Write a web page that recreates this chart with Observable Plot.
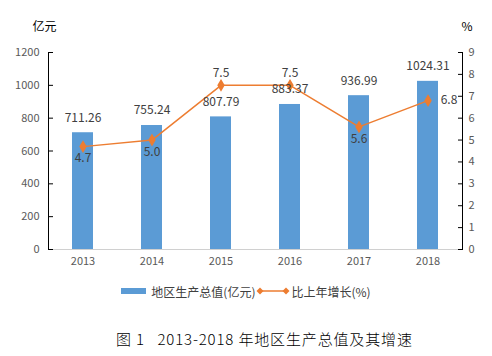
<!DOCTYPE html>
<html><head><meta charset="utf-8">
<script src="https://cdn.jsdelivr.net/npm/d3@7"></script>
<script src="https://cdn.jsdelivr.net/npm/@observablehq/plot@0.6"></script>
<style>
body{margin:0;background:#fff;font-family:"Noto Sans CJK SC",sans-serif;}
#wrap{position:relative;width:492px;height:356px;}
#legend{position:absolute;top:282px;left:0;width:492px;display:flex;justify-content:center;align-items:center;font-size:12px;color:#404040;height:18px;}
#caption{position:absolute;top:328px;left:116px;font-size:15px;font-weight:300;color:#000;white-space:pre;letter-spacing:0.85px;}
</style></head>
<body><div id="wrap"><div id="chart"></div>
<div id="legend"></div>
<div id="caption">图 1   2013-2018 年地区生产总值及其增速</div></div>
<script>
const years = ["2013","2014","2015","2016","2017","2018"];
const gdp = [711.26, 755.24, 807.79, 883.37, 936.99, 1024.31];
const growth = [4.7, 5.0, 7.5, 7.5, 5.6, 6.8];
const leftTicks = [0,200,400,600,800,1000,1200];
const rightTicks = [0,1,2,3,4,5,6,7,8,9];
const seriesNames = ["地区生产总值(亿元)","比上年增长(%)"];
const leftUnit = "亿元", rightUnit = "%";

const barColor = "#5b9bd5", lineColor = "#ed7d31";
const yMax = 1200, gMax = 9, k = yMax / gMax;
const data = years.map((y,i)=>({year:y, gdp:gdp[i], growth:growth[i]}));
const below = new Set(["2013","2014","2017"]), above = new Set(["2015","2016"]), right = new Set(["2018"]);

const W = 492, mL = 48, mR = 30, plotW = W - mL - mR;

const plot = Plot.plot({
  width: W, height: 275,
  marginTop: 52, marginBottom: 26, marginLeft: mL, marginRight: mR,
  style: {fontFamily: '"Noto Sans CJK SC", sans-serif', fontSize: "11px", color:"#595959", background:"#fff"},
  x: {domain: years, paddingInner: 0.696, paddingOuter: 0.348, label: null},
  y: {domain: [0, yMax], label: null},
  marks: [
    Plot.barY(data, {x:"year", y:"gdp", fill: barColor}),
    Plot.ruleY([0], {stroke:"#d0d0d0"}),
    Plot.frame({anchor:"left", stroke:"#000"}),
    Plot.frame({anchor:"right", stroke:"#000"}),
    Plot.ruleY(leftTicks, {stroke:"#000", insetRight: plotW - 5}),
    Plot.ruleY(rightTicks.map(v=>v*k), {stroke:"#000", insetLeft: plotW - 4}),
    Plot.axisX({tickSize:0, tickPadding:8, fill:"#595959"}),
    Plot.axisY(leftTicks, {anchor:"left", tickSize:0, tickPadding:9, fill:"#595959", tickFormat: d=>String(d)}),
    Plot.axisY(rightTicks.map(v=>v*k), {anchor:"right", tickSize:0, tickPadding:6, fill:"#595959", tickFormat: d=>String(Math.round(d/k))}),
    Plot.line(data, {x:"year", y: d=>d.growth*k, stroke: lineColor, strokeWidth:1.5}),
    Plot.dot(data, {x:"year", y: d=>d.growth*k, fill: lineColor, stroke: lineColor, symbol:"diamond", r:3}),
    Plot.text(data, {x:"year", y:"gdp", text: d=>d.gdp.toFixed(2), dy:-15, fill:"#404040", fontSize:12}),
    Plot.text(data.filter(d=>below.has(d.year)), {x:"year", y: d=>d.growth*k, text: d=>d.growth.toFixed(1), dy:12, fill:"#404040", fontSize:12}),
    Plot.text(data.filter(d=>above.has(d.year)), {x:"year", y: d=>d.growth*k, text: d=>d.growth.toFixed(1), dy:-12, fill:"#404040", fontSize:12}),
    Plot.text(data.filter(d=>right.has(d.year)), {x:"year", y: d=>d.growth*k, text: d=>d.growth.toFixed(1), dx:21, fill:"#404040", fontSize:12}),
    Plot.text([leftUnit], {frameAnchor:"top-left", text: d=>d, dx:-16, dy:-30, fill:"#000", fontSize:12}),
    Plot.text([rightUnit], {frameAnchor:"top-right", text: d=>d, dx:10, dy:-30, fill:"#000", fontSize:12})
  ]
});
document.getElementById("chart").appendChild(plot);

const lg = document.getElementById("legend");
lg.innerHTML =
  `<span style="display:inline-block;width:25px;height:6px;background:${barColor};margin-right:5px"></span>` +
  `<span>${seriesNames[0]}</span>` +
  `<svg width="34" height="10" style="margin:0 1px"><line x1="4" y1="5" x2="30" y2="5" stroke="${lineColor}" stroke-width="1.5"/>` +
  `<path d="M4,1.5L7.5,5L4,8.5L0.5,5Z" fill="${lineColor}"/><path d="M30,1.5L33.5,5L30,8.5L26.5,5Z" fill="${lineColor}"/></svg>` +
  `<span>${seriesNames[1]}</span>`;
</script></body></html>
